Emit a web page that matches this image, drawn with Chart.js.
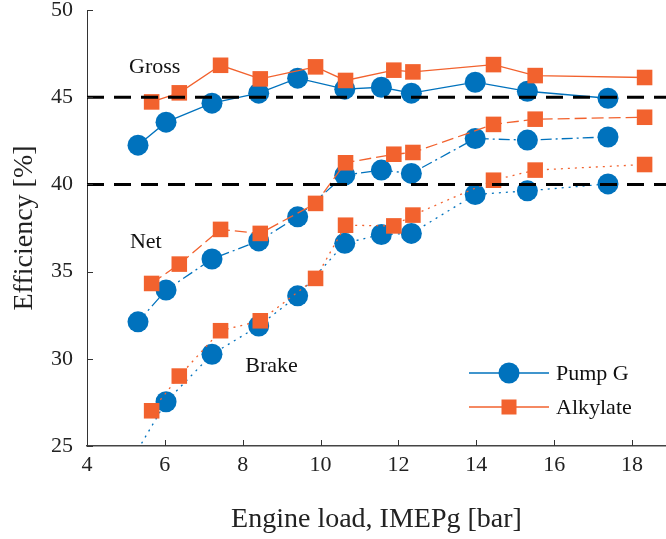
<!DOCTYPE html>
<html>
<head>
<meta charset="utf-8">
<script src="https://cdn.jsdelivr.net/npm/chart.js@4.4.0/dist/chart.umd.min.js"></script>
<style>
  body { margin: 0; background: #fff; }
  canvas { display: block; }
</style>
</head>
<body>
<canvas id="effChart" width="666" height="539"></canvas>
<script>
// engine load points (bar)
const loadPump = [5.31, 6.03, 7.21, 8.41, 9.41, 10.62, 11.56, 12.33, 13.97, 15.31, 17.38];
const loadAlky = [5.66, 6.37, 7.43, 8.45, 9.87, 10.64, 11.88, 12.37, 14.44, 15.51, 18.32];

// efficiencies (%)
const grossPump = [42.25, 43.57, 44.66, 45.23, 46.09, 45.46, 45.57, 45.23, 45.86, 45.34, 44.94];
const netPump   = [32.12, 33.94, 35.72, 36.76, 38.14, 40.53, 40.82, 40.63, 42.63, 42.54, 42.72];
const brakePump = [24.8, 27.54, 30.26, 31.88, 33.61, 36.62, 37.13, 37.19, 39.42, 39.63, 40.03];
const grossAlky = [44.73, 45.25, 46.83, 46.05, 46.74, 45.96, 46.55, 46.45, 46.87, 46.24, 46.13];
const netAlky   = [34.32, 35.43, 37.42, 37.19, 38.91, 41.24, 41.73, 41.83, 43.44, 43.74, 43.85];
const brakeAlky = [27.02, 29.01, 31.61, 32.18, 34.61, 37.66, 37.62, 38.24, 40.24, 40.82, 41.14];

// reference levels
const refLevels = [45, 40];
const xTicks = [4, 6, 8, 10, 12, 14, 16, 18];
const yTicks = [25, 30, 35, 40, 45, 50];

const blue = '#0072BD';
const orange = '#F2622E';
const serif = '"Liberation Serif", "DejaVu Serif", serif';
const xMax = 18.87;

const pts = (xs, ys) => xs.map((x, i) => ({ x: x, y: ys[i] }));

function series(label, xs, ys, color, style, dash, order) {
  return {
    label: label,
    data: pts(xs, ys),
    borderColor: color,
    backgroundColor: color,
    borderWidth: 1.3,
    borderDash: dash,
    pointStyle: style,
    pointRadius: ctx => (ys[ctx.dataIndex] < 25 ? 0 : (style === 'circle' ? 10.5 : 11)),
    pointBorderWidth: 0,
    pointBackgroundColor: color,
    tension: 0,
    order: order
  };
}

const dashDot = [11, 4, 2, 4];
const dotted = [2, 5];

const datasets = [
  series('Pump G', loadPump, grossPump, blue, 'circle', [], 3),
  series('Alkylate', loadAlky, grossAlky, orange, 'rect', [], 2),
  series('', loadPump, netPump, blue, 'circle', dashDot, 3),
  series('', loadAlky, netAlky, orange, 'rect', [12, 5], 2),
  series('', loadPump, brakePump, blue, 'circle', dotted, 3),
  series('', loadAlky, brakeAlky, orange, 'rect', dotted, 2)
];
refLevels.forEach(v => {
  datasets.push({
    label: '',
    data: [{ x: 4, y: v }, { x: xMax, y: v }],
    borderColor: '#000',
    borderWidth: 3,
    borderDash: [17, 10],
    pointRadius: 0,
    order: 0
  });
});

// text labels inside the plot (data coordinates)
const notes = [
  { text: 'Gross', x: 5.74, y: 46.72 },
  { text: 'Net', x: 5.51, y: 36.69 },
  { text: 'Brake', x: 8.74, y: 29.58 }
];

const extras = {
  id: 'extras',
  afterDraw(chart) {
    const { ctx, chartArea: a, scales: { x, y } } = chart;
    ctx.save();
    // inward ticks
    ctx.strokeStyle = '#333';
    ctx.lineWidth = 1;
    ctx.beginPath();
    xTicks.forEach(v => {
      const px = Math.round(x.getPixelForValue(v)) + 0.5;
      ctx.moveTo(px, a.bottom);
      ctx.lineTo(px, a.bottom - 6);
    });
    yTicks.forEach(v => {
      const py = Math.round(y.getPixelForValue(v)) + 0.5;
      ctx.moveTo(a.left, py);
      ctx.lineTo(a.left + 6, py);
    });
    ctx.stroke();

    // annotations
    ctx.fillStyle = '#111';
    ctx.font = '22px ' + serif;
    ctx.textAlign = 'center';
    ctx.textBaseline = 'middle';
    notes.forEach(n => ctx.fillText(n.text, x.getPixelForValue(n.x), y.getPixelForValue(n.y)));

    // legend
    const entries = chart.data.datasets.slice(0, 2);
    entries.forEach((ds, i) => {
      const ly = a.bottom - 73 + i * 34;
      const lx0 = a.right - 197, lx1 = a.right - 117, mx = (lx0 + lx1) / 2;
      ctx.strokeStyle = ds.borderColor;
      ctx.lineWidth = 1.3;
      ctx.setLineDash([]);
      ctx.beginPath();
      ctx.moveTo(lx0, ly);
      ctx.lineTo(lx1, ly);
      ctx.stroke();
      ctx.fillStyle = ds.borderColor;
      if (ds.pointStyle === 'circle') {
        ctx.beginPath();
        ctx.arc(mx, ly, 10.5, 0, Math.PI * 2);
        ctx.fill();
      } else {
        ctx.fillRect(mx - 7.5, ly - 7.5, 15, 15);
      }
      ctx.fillStyle = '#111';
      ctx.textAlign = 'left';
      ctx.fillText(ds.label, a.right - 110, ly + 1);
    });
    ctx.restore();
  }
};

new Chart(document.getElementById('effChart').getContext('2d'), {
  type: 'line',
  data: { datasets: datasets },
  options: {
    responsive: false,
    animation: false,
    layout: { autoPadding: false, padding: { top: 10, right: 0, left: 0, bottom: 0 } },
    plugins: {
      legend: { display: false },
      tooltip: { enabled: false }
    },
    scales: {
      x: {
        type: 'linear',
        min: 4,
        max: xMax,
        afterFit: s => { s.height = 93; s.paddingLeft = 0; s.paddingRight = 0; },
        afterBuildTicks: s => { s.ticks = xTicks.map(v => ({ value: v })); },
        grid: { display: false, drawTicks: false },
        border: { display: true, color: '#444', width: 1.5 },
        ticks: { padding: 6, color: '#222', font: { family: serif, size: 22 } },
        title: {
          display: true,
          text: 'Engine load, IMEPg [bar]',
          color: '#222',
          font: { family: serif, size: 28 },
          padding: { top: 0, bottom: 3 }
        }
      },
      y: {
        min: 25,
        max: 50,
        afterFit: s => { s.width = 87; s.paddingTop = 0; s.paddingBottom = 0; },
        afterBuildTicks: s => { s.ticks = yTicks.map(v => ({ value: v })); },
        grid: { display: false, drawTicks: false },
        border: { display: true, color: '#333', width: 1 },
        ticks: { padding: 14, color: '#222', font: { family: serif, size: 22 } },
        title: {
          display: true,
          text: 'Efficiency [%]',
          color: '#222',
          font: { family: serif, size: 28 },
          padding: { top: 8, bottom: 0 }
        }
      }
    }
  },
  plugins: [extras]
});
</script>
</body>
</html>
